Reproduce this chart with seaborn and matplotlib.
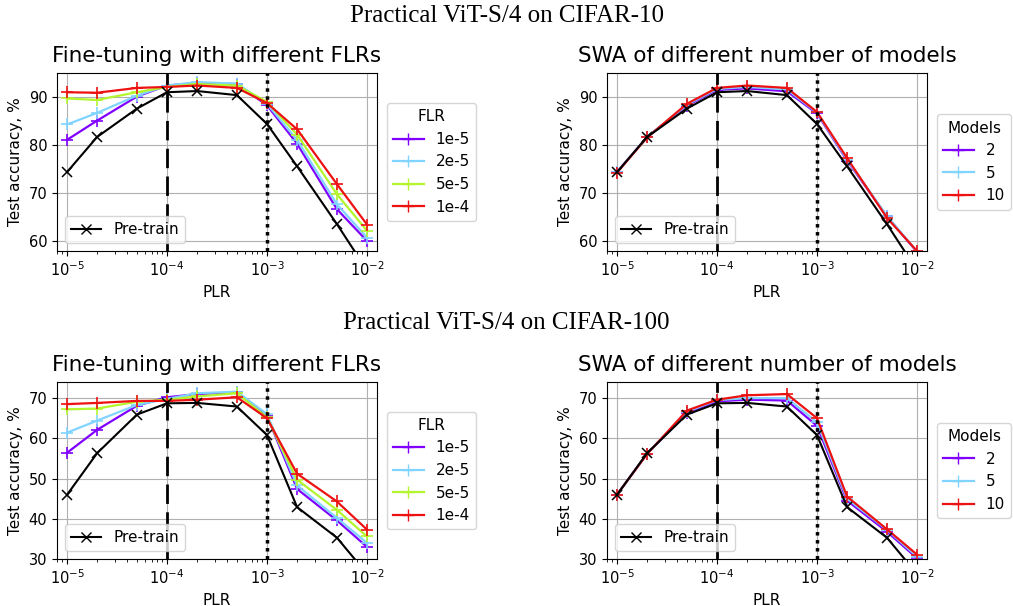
import numpy as np
import pandas as pd
import matplotlib
matplotlib.use("Agg")
import matplotlib.pyplot as plt
import seaborn as sns
from matplotlib.lines import Line2D

# ---------------- data ----------------
plr = [1e-5, 2e-5, 5e-5, 1e-4, 2e-4, 5e-4, 1e-3, 2e-3, 5e-3, 1e-2]

flr_labels = ["1e-5", "2e-5", "5e-5", "1e-4"]
model_labels = ["2", "5", "10"]

# CIFAR-10
c10_pretrain = [74.4, 81.7, 87.6, 91.0, 91.25, 90.4, 84.4, 75.6, 63.6, 54.0]
c10_ft_1e5 = [81.1, 85.1, 90.1, 92.4, 92.9, 92.7, 88.3, 80.3, 66.7, 60.1]
c10_ft_2e5 = [84.3, 86.7, 90.3, 92.4, 93.1, 92.8, 88.6, 81.1, 67.7, 60.8]
c10_ft_5e5 = [89.7, 89.4, 91.0, 92.1, 92.7, 92.4, 89.0, 82.2, 69.8, 62.2]
c10_ft_1e4 = [91.0, 90.9, 91.9, 92.1, 92.4, 91.9, 88.75, 83.3, 71.9, 63.5]
c10_swa_2 = [74.4, 81.7, 88.2, 91.5, 91.8, 91.2, 86.6, 76.8, 65.2, 57.8]
c10_swa_5 = [74.4, 81.7, 88.4, 91.7, 92.1, 91.6, 86.8, 77.0, 65.3, 57.9]
c10_swa_10 = [74.3, 81.6, 88.6, 91.9, 92.4, 91.9, 86.9, 77.3, 64.9, 58.0]

# CIFAR-100
c100_pretrain = [45.95, 56.3, 65.9, 68.7, 68.8, 67.9, 60.8, 42.9, 35.3, 26.3]
c100_ft_1e5 = [56.4, 62.1, 68.1, 70.2, 71.0, 71.4, 65.6, 47.4, 39.6, 33.0]
c100_ft_2e5 = [61.4, 64.4, 68.3, 69.8, 71.2, 71.6, 66.0, 48.3, 40.2, 34.0]
c100_ft_5e5 = [67.2, 67.4, 69.1, 69.6, 70.4, 71.2, 65.2, 49.7, 42.2, 35.6]
c100_ft_1e4 = [68.5, 68.8, 69.3, 69.3, 69.6, 70.2, 65.0, 51.2, 44.3, 37.3]
c100_swa_2 = [46.0, 56.2, 66.3, 69.2, 69.6, 69.4, 63.1, 44.5, 36.8, 30.2]
c100_swa_5 = [46.0, 56.2, 66.6, 69.5, 70.0, 70.0, 64.0, 45.0, 37.3, 30.6]
c100_swa_10 = [46.0, 56.1, 66.9, 69.6, 70.7, 71.0, 65.0, 45.5, 37.4, 31.1]

ft_colors = ["#8000ff", "#80d4ff", "#b4f52d", "#ee1111"]
swa_colors = ["#8000ff", "#80d4ff", "#ee1111"]

# ---------------- figure ----------------
plt.rcParams["font.family"] = ["DejaVu Sans"]

fig = plt.figure(figsize=(10.13, 6.06), dpi=100)

W = 320 / 1013
ax_tl = fig.add_axes([57 / 1013, 1 - 251 / 606, W, 178 / 606])
ax_tr = fig.add_axes([607 / 1013, 1 - 251 / 606, W, 178 / 606])
ax_bl = fig.add_axes([57 / 1013, 1 - 559 / 606, W, 177 / 606])
ax_br = fig.add_axes([607 / 1013, 1 - 559 / 606, W, 177 / 606])


def draw(ax, series, labels, colors, pretrain, ylim, yticks, title, legend_title):
    ax.set_xscale("log")
    for vals, lab, col in zip(series, labels, colors):
        sns.lineplot(x=plr, y=vals, ax=ax, color=col, marker="+", markersize=9,
                     markeredgewidth=1.2, linewidth=1.6, legend=False,
                     markeredgecolor=col)
    sns.lineplot(x=plr, y=pretrain, ax=ax, color="black", marker="x", markersize=7,
                 markeredgewidth=1.1, linewidth=1.5, legend=False, markeredgecolor="black")
    ax.axvline(1e-4, color="black", linewidth=2, linestyle=(0, (7, 3)), zorder=5)
    ax.axvline(1e-3, color="black", linewidth=2.5, linestyle=(0, (1, 1.3)), zorder=5)
    ax.set_xlim(10 ** -5.1, 10 ** -1.9)
    ax.set_ylim(*ylim)
    ax.set_yticks(yticks)
    ax.grid(True, which="major", color="#b0b0b0", linewidth=0.8)
    ax.set_axisbelow(True)
    ax.tick_params(axis="both", which="major", labelsize=10.5, length=3.5, width=0.8)
    ax.tick_params(axis="x", which="minor", length=2, width=0.6)
    ax.set_xlabel("PLR", fontsize=11)
    ax.set_ylabel("Test accuracy, %", fontsize=11)
    ax.set_title(title, fontsize=15.5, pad=8)

    handles = [Line2D([], [], color=c, marker="+", markersize=9, linewidth=1.6)
               for c in colors]
    leg1 = ax.legend(handles, labels, title=legend_title, loc="center left",
                     bbox_to_anchor=(1.031, 0.5), borderaxespad=0, fontsize=11,
                     title_fontsize=11, framealpha=0.8, fancybox=True)
    ax.add_artist(leg1)
    h2 = [Line2D([], [], color="black", marker="x", markersize=7, linewidth=1.5)]
    ax.legend(h2, ["Pre-train"], loc="lower left", fontsize=11, framealpha=0.8,
              fancybox=True)


draw(ax_tl, [c10_ft_1e5, c10_ft_2e5, c10_ft_5e5, c10_ft_1e4], flr_labels, ft_colors,
     c10_pretrain, (58, 95), [60, 70, 80, 90], "Fine-tuning with different FLRs", "FLR")
draw(ax_tr, [c10_swa_2, c10_swa_5, c10_swa_10], model_labels, swa_colors,
     c10_pretrain, (58, 95), [60, 70, 80, 90], "SWA of different number of models", "Models")
draw(ax_bl, [c100_ft_1e5, c100_ft_2e5, c100_ft_5e5, c100_ft_1e4], flr_labels, ft_colors,
     c100_pretrain, (30, 74), [30, 40, 50, 60, 70], "Fine-tuning with different FLRs", "FLR")
draw(ax_br, [c100_swa_2, c100_swa_5, c100_swa_10], model_labels, swa_colors,
     c100_pretrain, (30, 74), [30, 40, 50, 60, 70], "SWA of different number of models", "Models")

fig.text(0.5, 1 - 16 / 606, "Practical ViT-S/4 on CIFAR-10", ha="center", va="center",
         fontsize=18, family=["Liberation Serif", "DejaVu Serif"])
fig.text(0.5, 1 - 323 / 606, "Practical ViT-S/4 on CIFAR-100", ha="center", va="center",
         fontsize=18, family=["Liberation Serif", "DejaVu Serif"])

fig.savefig("out.png", dpi=100)
